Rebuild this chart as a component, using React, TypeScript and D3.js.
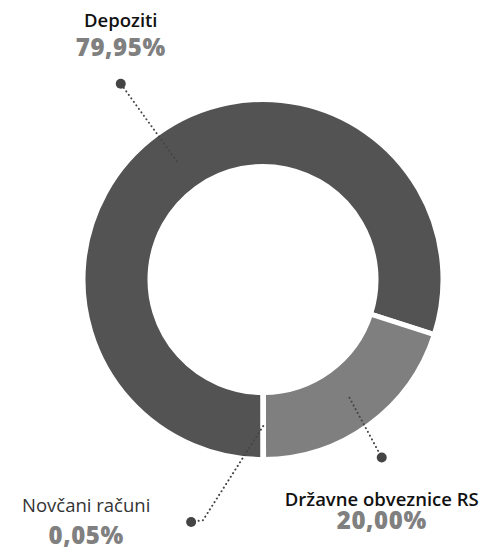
import React, { useEffect, useRef } from "react";
import * as d3 from "d3";

// slices in drawing order (starts at 6 o'clock, runs counter-clockwise)
const categories = ["Novčani računi", "Državne obveznice RS", "Depoziti"];
const shares = [0.05, 20.0, 79.95];
const sliceColors = ["#7f7f7f", "#7f7f7f", "#535353"];

// leader line end (dot) in polar coords around the donut centre, + optional elbow
const dotAngleDeg = [196.5, 146.3, -36];
const dotRadius = [253, 214, 242];
const elbowAngleDeg = [194, null, null];
const elbowRadius = [248, null, null];
// label offset relative to the dot
const labelDx = [-105, 0, 0];
const nameDy = [-10, 48.5, -57];
const pctDy = [22, 71.5, -28];
const nameColors = ["#333", "#111", "#111"];

const W = 496;
const H = 550;

const App = () => {
  const svgRef = useRef<SVGSVGElement>(null);

  useEffect(() => {
    const svg = d3.select(svgRef.current);
    svg.selectAll("*").remove();

    const cx = 263;
    const cy = 279.5;
    const outerR = 180;
    const innerR = 113;

    const locale = d3.formatLocale({ decimal: ",", thousands: ".", grouping: [3], currency: ["", "€"] });
    const fmt = locale.format(".2f");

    const data = categories.map((c, i) => ({ name: c, value: shares[i], i }));

    const pie = d3.pie<any>()
      .value(d => d.value)
      .sort(null)
      .startAngle(Math.PI)
      .endAngle(-Math.PI);
    const arcs = pie(data);

    const arc = d3.arc<any>().innerRadius(innerR).outerRadius(outerR);

    const root = svg.append("g").attr("transform", `translate(${cx},${cy})`);

    // draw the big slice first so gaps read the same on both sides
    const drawOrder = [...arcs].sort((a, b) => b.value - a.value);
    root.append("g").selectAll("path")
      .data(drawOrder)
      .join("path")
      .attr("d", arc)
      .attr("fill", d => sliceColors[d.data.i])
      .attr("stroke", "#fff")
      .attr("stroke-width", 5)
      .attr("stroke-linejoin", "miter");

    const polar = (deg: number, r: number) => {
      const a = (deg * Math.PI) / 180;
      return [Math.sin(a) * r, -Math.cos(a) * r];
    };

    const labels = root.append("g");
    arcs.forEach(d => {
      const i = d.data.i;
      const [sx, sy] = arc.centroid(d);
      const [dx, dy] = polar(dotAngleDeg[i], dotRadius[i]);
      const pts: [number, number][] = [[sx, sy]];
      if (elbowAngleDeg[i] !== null) {
        const [ex, ey] = polar(elbowAngleDeg[i] as number, elbowRadius[i] as number);
        pts.push([ex, ey]);
      }
      pts.push([dx, dy]);

      labels.append("path")
        .attr("d", d3.line()(pts))
        .attr("fill", "none")
        .attr("stroke", "#444")
        .attr("stroke-width", 2)
        .attr("stroke-linecap", "round")
        .attr("stroke-dasharray", "0.1 4.2");

      labels.append("circle")
        .attr("cx", dx)
        .attr("cy", dy)
        .attr("r", 5)
        .attr("fill", "#444");

      labels.append("text")
        .attr("x", dx + labelDx[i])
        .attr("y", dy + nameDy[i])
        .attr("text-anchor", "middle")
        .attr("font-family", "'Open Sans', sans-serif")
        .attr("font-weight", i === 0 ? 500 : 600)
        .attr("font-size", 18.5)
        .attr("fill", nameColors[i])
        .text(d.data.name);

      labels.append("text")
        .attr("x", dx + labelDx[i])
        .attr("y", dy + pctDy[i])
        .attr("text-anchor", "middle")
        .attr("font-family", "'Open Sans', sans-serif")
        .attr("font-weight", 800)
        .attr("font-size", 24)
        .attr("letter-spacing", 0.6)
        .attr("fill", "#808080")
        .text(fmt(d.data.value) + "%");
    });
  }, []);

  return (
    <svg
      ref={svgRef}
      width={W}
      height={H}
      style={{ position: "absolute", left: 0, top: 0, background: "#fff" }}
    />
  );
};

export default App;
